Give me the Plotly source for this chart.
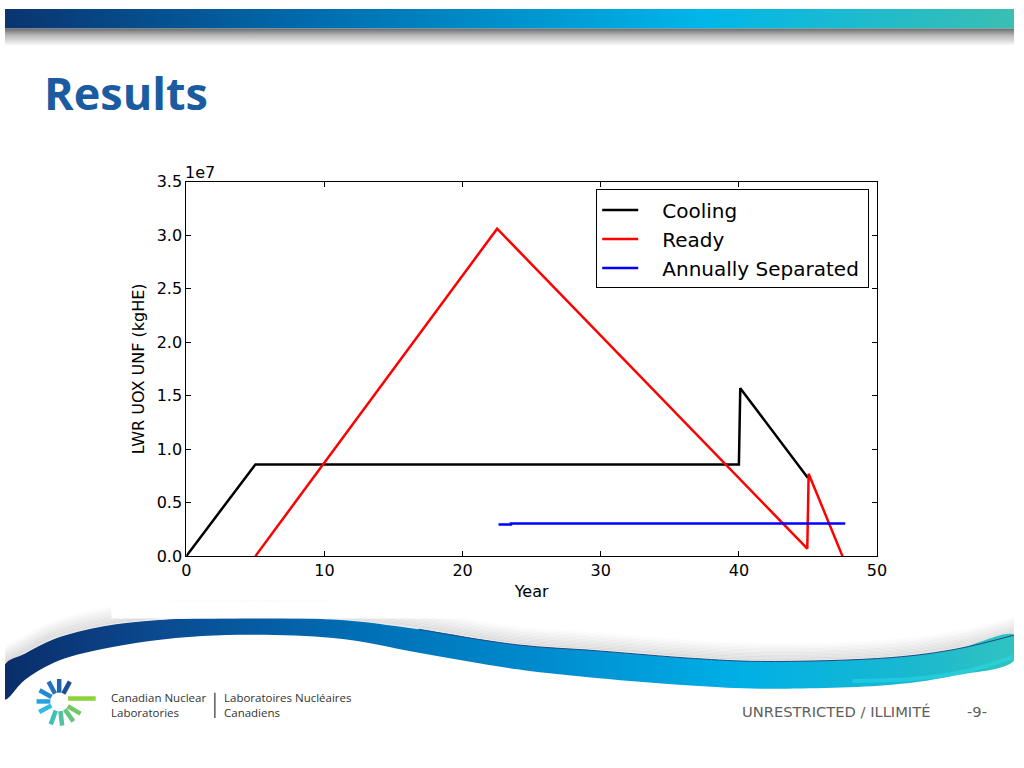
import math
import plotly.graph_objects as go

# ---------------- chart data ----------------
cooling_year = [0, 5, 40, 40.1, 45]
cooling_mass = [0, 8.57e6, 8.57e6, 1.57e7, 7.3e6]

ready_year = [5, 22.5, 44.95, 45.05, 47.5]
ready_mass = [0, 3.06e7, 7.0e5, 7.7e6, 0]

separated_year = [22.6, 23.5, 23.5, 47.7]
separated_mass = [2.96e6, 2.96e6, 3.05e6, 3.05e6]

x_ticks = [0, 10, 20, 30, 40, 50]
y_ticks = [0, 0.5e7, 1.0e7, 1.5e7, 2.0e7, 2.5e7, 3.0e7, 3.5e7]
y_tick_labels = ["0.0", "0.5", "1.0", "1.5", "2.0", "2.5", "3.0", "3.5"]

# ---------------- slide decoration geometry (pixel space of the slide) ----------------
W, H = 1024, 768

wave_top_x = [0, 20, 50, 100, 150, 200, 333, 420, 520, 600, 700, 767, 900, 967, 1024]
wave_top_y = [672, 661, 646, 633, 627, 625, 626, 636, 652, 658, 666, 669, 665, 656, 642]
wave_bot_x = [1024, 967, 900, 767, 700, 600, 520, 420, 333, 200, 100, 50, 20, 0]
wave_bot_y = [668, 683, 693, 697, 694, 686, 677, 660, 645, 643, 656, 670, 688, 708]

logo_angles = [62, 90, 118, 150, 180, 208, 250, 277, 305, 330]
logo_colors = ["#1a4f96", "#1f64ae", "#2272be", "#2189d2", "#29a3e0",
               "#2fbbe2", "#3fc0b8", "#4fc49c", "#62c67c", "#74c864"]


def px_x(v):
    return v / W


def px_y(v):
    return 1 - v / H


fig = go.Figure()

# ---- decoration subplot (full page, slide pixel coords) ----
dec = dict(xaxis="x", yaxis="y", showlegend=False, hoverinfo="skip")

# top banner
fig.add_trace(go.Scatter(x=[0, W, W, 0, 0], y=[0, 0, 20, 20, 0], mode="lines",
                         line=dict(width=0), fill="toself",
                         fillgradient=dict(type="horizontal", start=0, stop=W,
                                           colorscale=[[0, "#0a3470"], [0.3, "#006cae"],
                                                       [0.68, "#00b6ea"], [1, "#3dbfb0"]]),
                         **dec))
# banner shadow
fig.add_trace(go.Scatter(x=[0, W, W, 0, 0], y=[20, 20, 37, 37, 20], mode="lines",
                         line=dict(width=0), fill="toself",
                         fillgradient=dict(type="vertical", start=20, stop=37,
                                           colorscale=[[0, "#707070"], [0.35, "#b4b4b4"],
                                                       [1, "#ffffff"]]),
                         **dec))

# wave shadow
for k in range(1, 14):
    fig.add_trace(go.Scatter(x=wave_top_x, y=[v - 1.4 * k for v in wave_top_y],
                             mode="lines",
                             line=dict(width=2, shape="spline",
                                       color="rgba(80,80,80,%.3f)" % (0.14 * (1 - k / 14))),
                             **dec))

# wave band
fig.add_trace(go.Scatter(x=wave_top_x + wave_bot_x + [wave_top_x[0]],
                         y=wave_top_y + wave_bot_y + [wave_top_y[0]],
                         mode="lines", line=dict(width=0, shape="spline"), fill="toself",
                         fillgradient=dict(type="horizontal", start=0, stop=W,
                                           colorscale=[[0, "#0a2d6a"], [0.15, "#0b4a90"],
                                                       [0.35, "#006fb6"], [0.55, "#0090d2"],
                                                       [0.72, "#00b0e6"], [0.88, "#18b8d0"],
                                                       [1, "#34c4be"]]),
                         **dec))
fig.add_trace(go.Scatter(x=[860, 920, 975, 1024], y=[689, 687, 679, 664], mode="lines",
                         line=dict(width=4, shape="spline", color="rgba(40,225,240,0.45)"),
                         **dec))
fig.add_trace(go.Scatter(x=wave_top_x[7:], y=wave_top_y[7:], mode="lines",
                         line=dict(width=1, shape="spline", color="#1b4a82"), **dec))

# logo
cx, cy = 55, 710
for ang, col in zip(logo_angles, logo_colors):
    r1, r2 = (9, 23) if ang < 240 else (10, 25)
    a = math.radians(ang)
    fig.add_trace(go.Scatter(x=[cx + r1 * math.cos(a), cx + r2 * math.cos(a)],
                             y=[cy - r1 * math.sin(a), cy - r2 * math.sin(a)],
                             mode="lines", line=dict(width=4.5, color=col), **dec))
fig.add_trace(go.Scatter(x=[64, 92], y=[707, 707], mode="lines",
                         line=dict(width=4.5, color="#8cd23a"), **dec))
# separator between the two lab names
fig.add_trace(go.Scatter(x=[213, 213], y=[701, 727], mode="lines",
                         line=dict(width=1.2, color="#333333"), **dec))

# ---- main chart ----
fig.add_trace(go.Scatter(x=cooling_year, y=cooling_mass, name="\u00a0\u00a0\u00a0Cooling",
                         mode="lines", line=dict(color="black", width=2.5),
                         xaxis="x2", yaxis="y2", legendgroup="a"))
fig.add_trace(go.Scatter(x=ready_year, y=ready_mass, name="\u00a0\u00a0\u00a0Ready",
                         mode="lines", line=dict(color="#ff0000", width=2.5),
                         xaxis="x2", yaxis="y2", legendgroup="b"))
fig.add_trace(go.Scatter(x=separated_year, y=separated_mass,
                         name="\u00a0\u00a0\u00a0Annually Separated\u2009",
                         mode="lines", line=dict(color="#0000ff", width=2.5),
                         xaxis="x2", yaxis="y2", legendgroup="c"))

axis_font = dict(family="DejaVu Sans", size=16, color="black")
fig.update_layout(
    width=W, height=H,
    margin=dict(l=0, r=0, t=0, b=0),
    paper_bgcolor="white", plot_bgcolor="rgba(0,0,0,0)",
    xaxis=dict(domain=[0, 1], range=[0, W], visible=False, fixedrange=True),
    yaxis=dict(domain=[0, 1], range=[H, 0], visible=False, fixedrange=True),
    xaxis2=dict(domain=[px_x(184), px_x(885)], range=[0, 50], anchor="y2",
                tickvals=x_ticks, ticks="inside", ticklen=5, tickcolor="black",
                showline=True, linecolor="black", linewidth=1, mirror="allticks",
                showgrid=False, zeroline=False, tickfont=axis_font,
                title=dict(text="Year", font=axis_font, standoff=6)),
    yaxis2=dict(domain=[px_y(561), px_y(177)], range=[0, 3.5e7], anchor="x2",
                tickvals=y_ticks, ticktext=y_tick_labels, ticks="inside", ticklen=5,
                tickcolor="black", showline=True, linecolor="black", linewidth=1,
                mirror="allticks", showgrid=False, zeroline=False, tickfont=axis_font,
                title=dict(text="LWR UOX UNF (kgHE)", font=axis_font, standoff=8)),
    legend=dict(x=px_x(600), y=px_y(185), xanchor="left", yanchor="top",
                bgcolor="white", bordercolor="black", borderwidth=1,
                font=dict(family="DejaVu Sans", size=20, color="black"),
                itemwidth=36, tracegroupgap=4, traceorder="normal"),
    showlegend=True,
)

fig.add_annotation(x=px_x(181), y=px_y(168), xref="paper", yref="paper", text="1e7",
                   showarrow=False, xanchor="left", yanchor="middle", font=axis_font)
fig.add_annotation(x=px_x(38), y=px_y(86), xref="paper", yref="paper", text="Results",
                   showarrow=False, xanchor="left", yanchor="middle",
                   font=dict(family="Open Sans", size=45, color="#1b5ca0", weight=700))
foot = dict(family="Open Sans", size=11.5, color="#333333")
for txt, x in [("Canadian Nuclear<br>Laboratories", 106),
               ("Laboratoires Nucléaires<br>Canadiens", 220)]:
    fig.add_annotation(x=px_x(x), y=px_y(714), xref="paper", yref="paper", text=txt,
                       showarrow=False, xanchor="left", yanchor="middle", align="left",
                       font=foot)
cls = dict(family="DejaVu Sans", size=14.7, color="#606060")
fig.add_annotation(x=px_x(746), y=px_y(720), xref="paper", yref="paper",
                   text="UNRESTRICTED / ILLIMITÉ", showarrow=False, xanchor="left",
                   yanchor="middle", font=cls)
fig.add_annotation(x=px_x(974), y=px_y(720), xref="paper", yref="paper", text="-9-",
                   showarrow=False, xanchor="left", yanchor="middle", font=cls)

# the chart picture area hides the wave shadow above it
fig.add_shape(type="rect", xref="paper", yref="paper", x0=px_x(108), x1=px_x(890),
              y0=px_y(625), y1=px_y(608), fillcolor="white", line=dict(width=0),
              layer="above")

fig.write_html("out.html", config={"displayModeBar": False},
               post_script="document.body.style.margin='0';document.body.style.overflow='hidden';")
